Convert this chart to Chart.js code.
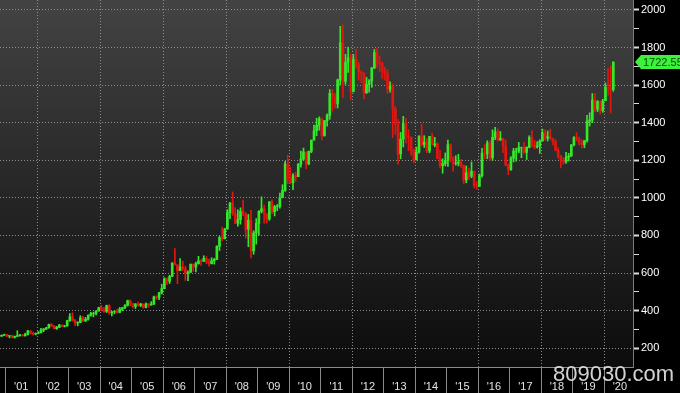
<!DOCTYPE html>
<html>
<head>
<meta charset="utf-8">
<script src="https://cdn.jsdelivr.net/npm/chart.js@4.4.1/dist/chart.umd.min.js"></script>
<style>
  html, body { margin: 0; padding: 0; background: #000; }
  #wrap { position: relative; width: 680px; height: 393px; }
  #mark {
    position: absolute; left: 553px; top: 361px;
    font: 22px "Liberation Sans", Arial, sans-serif;
    color: rgba(232, 232, 232, 0.9);
  }
</style>
</head>
<body>
<div id="wrap">
  <canvas id="goldChart" width="680" height="393"></canvas>
  <div id="mark">809030.com</div>
</div>
<script>
// monthly gold candles, Nov 2000 .. Apr 2020 (month 0 = Jan 2001)
var firstMonth = -2;
var yearLabels = ["'01", "'02", "'03", "'04", "'05", "'06", "'07", "'08", "'09", "'10",
  "'11", "'12", "'13", "'14", "'15", "'16", "'17", "'18", "'19", "'20"];
var yTicks = [200, 400, 600, 800, 1000, 1200, 1400, 1600, 1800, 2000];

var opens = [
  264, 269,
  273, 265, 267, 258, 263, 267, 270, 266, 273, 293, 279, 275,
  278, 282, 296, 302, 308, 326, 318, 304, 312, 323, 317, 319,
  347, 367, 347, 334, 337, 361, 346, 354, 375, 385, 386, 398,
  416, 402, 396, 427, 388, 394, 395, 391, 408, 416, 428, 453,
  438, 422, 435, 428, 435, 417, 436, 430, 434, 473, 470, 495,
  517, 569, 556, 582, 654, 643, 613, 632, 623, 599, 604, 646,
  632, 650, 665, 662, 678, 659, 650, 665, 672, 743, 789, 783,
  834, 923, 972, 916, 865, 885, 928, 914, 833, 880, 718, 814,
  865, 928, 942, 916, 888, 979, 926, 954, 955, 1001, 1040, 1181,
  1096, 1081, 1119, 1113, 1179, 1207, 1244, 1181, 1248, 1307, 1357, 1386,
  1421, 1332, 1411, 1439, 1556, 1536, 1500, 1628, 1826, 1620, 1722, 1746,
  1566, 1738, 1710, 1669, 1664, 1560, 1604, 1622, 1692, 1773, 1719, 1713,
  1675, 1663, 1579, 1595, 1472, 1393, 1234, 1313, 1395, 1327, 1323, 1253,
  1202, 1244, 1326, 1284, 1296, 1250, 1327, 1282, 1287, 1210, 1172, 1182,
  1199, 1283, 1213, 1183, 1184, 1190, 1172, 1095, 1134, 1115, 1142, 1064,
  1061, 1118, 1238, 1234, 1292, 1214, 1322, 1351, 1309, 1316, 1277, 1173,
  1151, 1211, 1249, 1249, 1268, 1269, 1242, 1269, 1322, 1280, 1271, 1275,
  1303, 1345, 1318, 1325, 1315, 1299, 1253, 1224, 1201, 1192, 1215, 1222,
  1282, 1321, 1313, 1292, 1284, 1305, 1409, 1414, 1520, 1472, 1513, 1464,
  1517, 1589, 1585, 1577
];
var highs = [
  270, 275,
  273, 268, 269, 265, 293, 274, 272, 280, 294, 293, 286, 281,
  289, 306, 305, 311, 328, 331, 322, 316, 327, 324, 322, 349,
  384, 389, 354, 341, 373, 369, 364, 378, 391, 392, 399, 418,
  428, 417, 429, 432, 395, 400, 408, 417, 416, 432, 456, 457,
  440, 438, 446, 439, 436, 442, 438, 448, 478, 479, 497, 541,
  575, 574, 588, 654, 730, 645, 677, 663, 637, 612, 649, 649,
  658, 689, 671, 692, 688, 674, 681, 678, 745, 795, 845, 838,
  937, 976, 1032, 948, 936, 947, 988, 922, 912, 934, 825, 890,
  933, 1006, 962, 915, 980, 990, 960, 965, 1025, 1070, 1195, 1227,
  1163, 1129, 1136, 1183, 1249, 1265, 1244, 1249, 1308, 1388, 1424, 1431,
  1424, 1411, 1447, 1576, 1577, 1557, 1632, 1913, 1921, 1764, 1803, 1764,
  1763, 1791, 1720, 1677, 1666, 1641, 1630, 1693, 1790, 1796, 1754, 1723,
  1696, 1684, 1617, 1606, 1487, 1416, 1348, 1434, 1424, 1362, 1324, 1261,
  1270, 1332, 1392, 1331, 1315, 1326, 1345, 1322, 1293, 1255, 1208, 1239,
  1307, 1287, 1220, 1224, 1232, 1205, 1175, 1170, 1157, 1191, 1143, 1088,
  1127, 1263, 1283, 1304, 1303, 1362, 1375, 1367, 1353, 1318, 1307, 1180,
  1220, 1264, 1263, 1295, 1270, 1296, 1272, 1331, 1358, 1306, 1299, 1309,
  1366, 1362, 1356, 1366, 1318, 1309, 1266, 1226, 1214, 1243, 1237, 1284,
  1326, 1347, 1324, 1310, 1306, 1439, 1453, 1555, 1557, 1518, 1516, 1525,
  1611, 1689, 1704, 1724
];
var lows = [
  262, 267,
  262, 255, 255, 254, 262, 264, 264, 264, 270, 276, 270, 271,
  277, 282, 288, 299, 307, 314, 302, 300, 309, 313, 313, 316,
  343, 344, 320, 319, 336, 342, 342, 349, 371, 367, 377, 397,
  398, 392, 390, 381, 372, 383, 387, 388, 399, 410, 424, 426,
  414, 411, 424, 421, 413, 414, 418, 429, 433, 460, 458, 488,
  516, 538, 544, 581, 645, 543, 612, 613, 561, 560, 603, 609,
  606, 647, 640, 662, 651, 637, 648, 647, 672, 720, 772, 781,
  833, 889, 906, 864, 850, 860, 905, 786, 740, 681, 700, 754,
  800, 920, 865, 866, 880, 915, 904, 932, 945, 1000, 1035, 1076,
  1075, 1044, 1087, 1113, 1164, 1201, 1155, 1176, 1240, 1309, 1331, 1360,
  1309, 1328, 1381, 1418, 1462, 1478, 1478, 1601, 1535, 1604, 1667, 1523,
  1563, 1690, 1627, 1613, 1527, 1555, 1562, 1588, 1687, 1691, 1672, 1636,
  1626, 1555, 1562, 1321, 1338, 1180, 1208, 1271, 1292, 1251, 1227, 1187,
  1202, 1238, 1277, 1268, 1240, 1240, 1285, 1272, 1207, 1160, 1131, 1170,
  1167, 1192, 1142, 1174, 1170, 1162, 1077, 1080, 1098, 1107, 1053, 1046,
  1061, 1110, 1208, 1208, 1199, 1200, 1310, 1302, 1305, 1241, 1171, 1123,
  1146, 1191, 1195, 1240, 1214, 1237, 1204, 1266, 1271, 1261, 1265, 1237,
  1302, 1307, 1303, 1310, 1282, 1250, 1211, 1160, 1180, 1183, 1196, 1221,
  1276, 1303, 1281, 1266, 1267, 1296, 1382, 1400, 1459, 1459, 1446, 1455,
  1517, 1547, 1451, 1567
];
var closes = [
  269, 273,
  265, 267, 258, 263, 267, 270, 266, 273, 293, 279, 275, 278,
  282, 296, 302, 308, 326, 318, 304, 312, 323, 317, 319, 347,
  367, 347, 334, 337, 361, 346, 354, 375, 385, 386, 398, 416,
  402, 396, 427, 388, 394, 395, 391, 408, 416, 428, 453, 438,
  422, 435, 428, 435, 417, 436, 430, 434, 473, 470, 495, 517,
  569, 556, 582, 654, 643, 613, 632, 623, 599, 604, 646, 632,
  650, 665, 662, 678, 659, 650, 665, 672, 743, 789, 783, 834,
  923, 972, 916, 865, 885, 928, 914, 833, 880, 718, 814, 865,
  928, 942, 916, 888, 979, 926, 954, 955, 1001, 1040, 1181, 1096,
  1081, 1119, 1113, 1179, 1207, 1244, 1181, 1248, 1307, 1357, 1386, 1421,
  1332, 1411, 1439, 1556, 1536, 1500, 1628, 1826, 1620, 1722, 1746, 1566,
  1738, 1710, 1669, 1664, 1560, 1604, 1622, 1692, 1773, 1719, 1713, 1675,
  1663, 1579, 1595, 1472, 1393, 1234, 1313, 1395, 1327, 1323, 1253, 1202,
  1244, 1326, 1284, 1296, 1250, 1327, 1282, 1287, 1210, 1172, 1182, 1199,
  1283, 1213, 1183, 1184, 1190, 1172, 1095, 1134, 1115, 1142, 1064, 1061,
  1118, 1238, 1234, 1292, 1214, 1322, 1351, 1309, 1316, 1277, 1173, 1151,
  1211, 1249, 1249, 1268, 1269, 1242, 1269, 1322, 1280, 1271, 1275, 1303,
  1345, 1318, 1325, 1315, 1299, 1253, 1224, 1201, 1192, 1215, 1222, 1282,
  1321, 1313, 1292, 1284, 1305, 1409, 1414, 1520, 1472, 1513, 1464, 1517,
  1589, 1585, 1577, 1722.55
];

var upColor = "#35e82a";
var downColor = "#e3150f";
var fontFamily = "'Liberation Sans', Arial, sans-serif";

var wicks = [];
var bodies = [];
var barColors = [];
for (var i = 0; i < closes.length; i++) {
  var xm = firstMonth + i + 0.5;
  wicks.push({ x: xm, y: [lows[i], highs[i]] });
  bodies.push({ x: xm, y: [opens[i], closes[i]] });
  barColors.push(closes[i] >= opens[i] ? upColor : downColor);
}

// dark gradient behind the plot
var backdrop = {
  id: "backdrop",
  beforeDraw: function (chart) {
    var ctx = chart.ctx;
    var a = chart.chartArea;
    ctx.save();
    ctx.fillStyle = "#000";
    ctx.fillRect(0, 0, chart.width, chart.height);
    var g = ctx.createLinearGradient(0, a.top, 0, a.bottom);
    g.addColorStop(0, "#434343");
    g.addColorStop(1, "#0c0c0c");
    ctx.fillStyle = g;
    ctx.fillRect(a.left, a.top, a.right - a.left, a.bottom - a.top);
    ctx.restore();
  }
};

// green tag with the last price on the right axis
var lastTag = {
  id: "lastTag",
  afterDraw: function (chart) {
    var ctx = chart.ctx;
    var last = closes[closes.length - 1];
    var y = chart.scales.y.getPixelForValue(last);
    var x0 = chart.chartArea.right + 2;
    ctx.save();
    ctx.fillStyle = "#3cf23a";
    ctx.beginPath();
    ctx.moveTo(x0, y);
    ctx.lineTo(x0 + 6, y - 7);
    ctx.lineTo(chart.width, y - 7);
    ctx.lineTo(chart.width, y + 7);
    ctx.lineTo(x0 + 6, y + 7);
    ctx.closePath();
    ctx.fill();
    ctx.fillStyle = "#0d4a0d";
    ctx.font = "11px " + fontFamily;
    ctx.textBaseline = "middle";
    ctx.fillText(last.toFixed(2), x0 + 8, y + 1);
    ctx.restore();
  }
};

var ctx = document.getElementById("goldChart").getContext("2d");
var goldChart = new Chart(ctx, {
  type: "bar",
  data: {
    datasets: [
      {
        data: wicks,
        backgroundColor: barColors,
        barThickness: 1,
        grouped: false,
        borderWidth: 0
      },
      {
        data: bodies,
        backgroundColor: barColors,
        barThickness: 2,
        grouped: false,
        borderWidth: 0
      }
    ]
  },
  options: {
    responsive: false,
    animation: false,
    layout: { padding: 0 },
    plugins: {
      legend: { display: false },
      tooltip: { enabled: false }
    },
    scales: {
      x: {
        type: "linear",
        min: -2.1,
        max: 239,
        offset: false,
        afterBuildTicks: function (scale) {
          var t = [];
          for (var k = 0; k < yearLabels.length; k++) {
            t.push({ value: k * 12 });
            t.push({ value: k * 12 + 6 });
          }
          scale.ticks = t;
        },
        afterFit: function (scale) {
          scale.height = 26;
          scale.paddingLeft = 0;
          scale.paddingRight = 0;
        },
        ticks: {
          autoSkip: false,
          maxRotation: 0,
          padding: -13,
          color: "#e4e4e4",
          font: { family: fontFamily, size: 11 },
          callback: function (v) {
            return v % 12 === 6 ? yearLabels[(v - 6) / 12] : "";
          }
        },
        grid: {
          offset: false,
          tickLength: 26,
          lineWidth: 1,
          color: function (c) {
            return c.tick && c.tick.value % 24 === 12 ? "#8d8d8d" : "rgba(0,0,0,0)";
          },
          tickColor: function (c) {
            return c.tick && c.tick.value % 12 === 0 ? "#8a8a8a" : "rgba(0,0,0,0)";
          }
        },
        border: { display: true, color: "#8a8a8a", dash: [1, 2] }
      },
      y: {
        position: "right",
        min: 100,
        max: 2053,
        beginAtZero: false,
        afterBuildTicks: function (scale) {
          var t = [];
          yTicks.forEach(function (v) {
            t.push({ value: v });
            if (v < 2000) t.push({ value: v + 100 });
          });
          scale.ticks = t;
        },
        afterFit: function (scale) {
          scale.width = 47;
          scale.paddingTop = 0;
          scale.paddingBottom = 0;
        },
        ticks: {
          padding: 2,
          color: "#ffffff",
          font: { family: fontFamily, size: 11 },
          callback: function (v) {
            return v % 200 === 0 ? String(v) : "";
          }
        },
        grid: {
          tickLength: 6,
          color: function (c) {
            return c.tick && c.tick.value % 200 === 0 ? "#8d8d8d" : "rgba(0,0,0,0)";
          },
          tickColor: "#dcdcdc",
          tickWidth: function (c) {
            return c.tick && c.tick.value % 200 === 0 ? 2 : 1;
          }
        },
        border: { display: true, color: "#7a7a7a", dash: [1, 2] }
      }
    }
  },
  plugins: [backdrop, lastTag]
});
</script>
</body>
</html>
